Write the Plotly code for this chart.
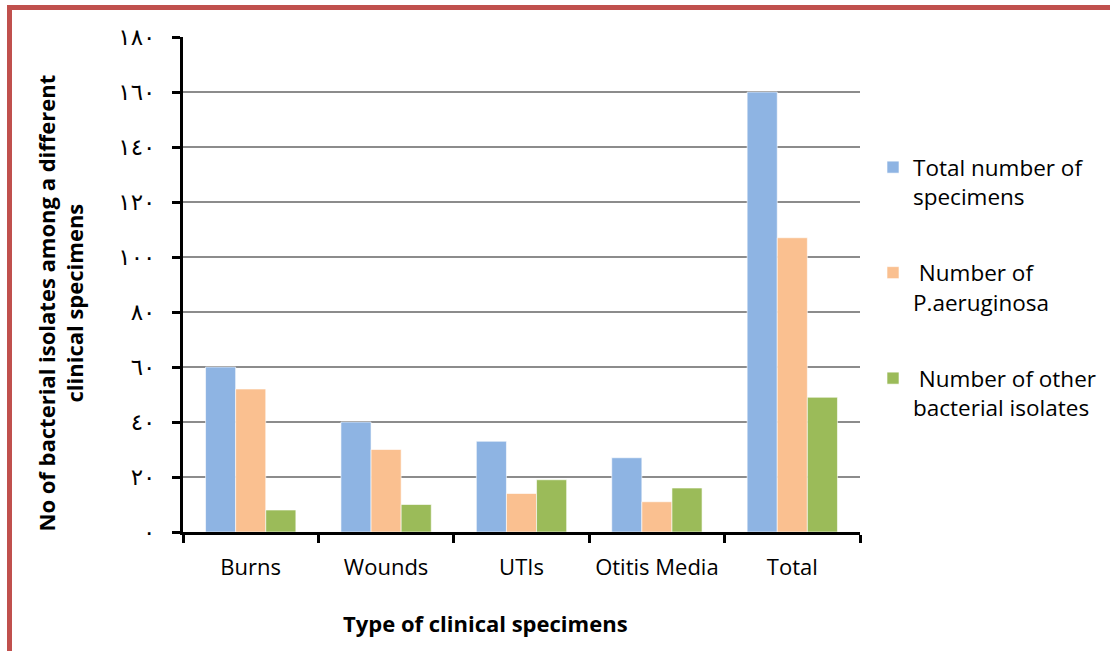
import plotly.graph_objects as go

# Specimen categories and counts per series
categories = ["Burns", "Wounds", "UTIs", "Otitis Media", "Total"]
total_specimens = [60, 40, 33, 27, 160]
p_aeruginosa = [52, 30, 14, 11, 107]
other_isolates = [8, 10, 19, 16, 49]

series_names = [
    "Total number of<br>specimens",
    " Number of<br>P.aeruginosa",
    " Number of other<br>bacterial isolates",
]
series_colors = ["#8EB4E3", "#FAC090", "#9BBB59"]

# Y tick values with Arabic-Indic digit labels
tick_vals = [0, 20, 40, 60, 80, 100, 120, 140, 160, 180]
tick_text = ["٠", "٢٠", "٤٠", "٦٠", "٨٠", "١٠٠", "١٢٠", "١٤٠", "١٦٠", "١٨٠"]

FONT = "'Open Sans', 'DejaVu Sans', sans-serif"

fig = go.Figure()
for i, (name, vals, col) in enumerate(zip(series_names, [total_specimens, p_aeruginosa, other_isolates], series_colors)):
    fig.add_trace(go.Bar(
        x=categories, y=vals, name=name,
        marker=dict(color=col, line=dict(color="rgba(255,255,255,0.6)", width=1)),
        legendgroup=f"g{i}",
    ))

L, R, T, B = 183, 250, 37, 119
W, H = 1110, 651
pw, ph = W - L - R, H - T - B

def px_x(p):
    return (p - L) / pw

def px_y(p):
    return (H - B - p) / ph

fig.update_layout(
    width=W, height=H,
    margin=dict(l=L, r=R, t=T, b=B, pad=0, autoexpand=False),
    paper_bgcolor="white", plot_bgcolor="white",
    font=dict(family=FONT, size=20, color="#000000"),
    barmode="group", bargap=0.333, bargroupgap=0,
    showlegend=True,
    legend=dict(
        x=px_x(873), y=px_y(146), xanchor="left", yanchor="top",
        font=dict(size=22.5, family=FONT), valign="top",
        traceorder="grouped", tracegroupgap=44,
        itemwidth=30, bgcolor="rgba(0,0,0,0)",
    ),
    xaxis=dict(
        showline=True, linecolor="black", linewidth=3,
        ticks="outside", tickson="boundaries", ticklen=8, tickwidth=3, tickcolor="black",
        tickfont=dict(size=22, family=FONT), showgrid=False,
        ticklabelstandoff=14,
    ),
    yaxis=dict(
        range=[0, 180], tickvals=tick_vals, ticktext=tick_text,
        showline=True, linecolor="black", linewidth=3,
        ticks="outside", ticklen=8, tickwidth=3, tickcolor="black",
        tickfont=dict(size=23, family="'DejaVu Sans', sans-serif"),
        showgrid=True, gridcolor="#8C8C8C", gridwidth=2, zeroline=False,
        ticklabelstandoff=12,
    ),
)

# Y axis title
fig.add_annotation(
    text="<b>No of bacterial isolates among a different<br>clinical specimens</b>",
    xref="paper", yref="paper", x=px_x(59.5), y=px_y(303),
    textangle=-90, showarrow=False, font=dict(size=22, family=FONT),
    xanchor="center", yanchor="middle",
)

# X axis title
fig.add_annotation(
    text="<b>Type of clinical specimens</b>",
    xref="paper", yref="paper", x=px_x(485), y=px_y(623),
    showarrow=False, font=dict(size=22, family=FONT),
    xanchor="center", yanchor="middle",
)

# Red frame around the figure
fig.add_shape(
    type="rect", xref="paper", yref="paper",
    x0=px_x(9.5), x1=px_x(1200), y0=px_y(800), y1=px_y(7.5),
    line=dict(color="#C0504D", width=5), fillcolor="rgba(0,0,0,0)",
    layer="above",
)

fig.write_html("out.html")
